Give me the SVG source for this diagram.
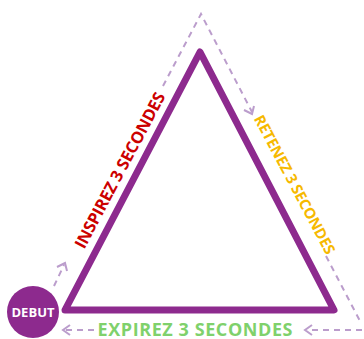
<svg xmlns="http://www.w3.org/2000/svg" width="364" height="339" viewBox="0 0 364 339">
<style>
.dash{fill:none;stroke:#bb9dcc;stroke-width:2;stroke-dasharray:6 5}
.head{fill:none;stroke:#bb9dcc;stroke-width:2}
.lbl{font-family:"Open Sans","Liberation Sans",sans-serif;font-weight:bold;text-anchor:middle}
</style>
<rect width="364" height="339" fill="#ffffff"/>
<g id="connectors">
<path class="dash" d="M54,286 L64,265"/>
<path class="head" d="M57,267 L65,263 L67,271"/>
<path class="dash" d="M163,86 L201,14 L252,112"/>
<path class="head" d="M244,110 L252,114 L254,106"/>
<path class="dash" d="M326,256 L361,323"/>
<path class="dash" d="M362,330 L308,330"/>
<path class="head" d="M312,325 L305,330 L312,335"/>
<path class="dash" d="M94,330 L66,330"/>
<path class="head" d="M70,325 L63,330 L70,335"/>
</g>
<g id="triangle">
<path d="M200,52 L334,310 L65,310 Z" fill="none" stroke="#8d2a8e" stroke-width="7" stroke-linejoin="round"/>
</g>
<g id="inspirez">
<text class="lbl" x="0" y="0" font-size="16.5" fill="#cc0000" transform="translate(125,173) rotate(-62)" textLength="174">INSPIREZ 3 SECONDES</text>
</g>
<g id="retenez">
<text class="lbl" x="0" y="0" font-size="15" fill="#f6b900" transform="translate(290,187) rotate(62)" textLength="155">RETENEZ 3 SECONDES</text>
</g>
<g id="expirez">
<text class="lbl" x="195" y="336" font-size="18" font-weight="600" fill="#7fd16c" textLength="195">EXPIREZ 3 SECONDES</text>
</g>
<g id="debut">
<circle cx="33" cy="312" r="26" fill="#8d2a8e"/>
<text class="lbl" x="33" y="317" font-size="13" fill="#ffffff">DEBUT</text>
</g>
</svg>
